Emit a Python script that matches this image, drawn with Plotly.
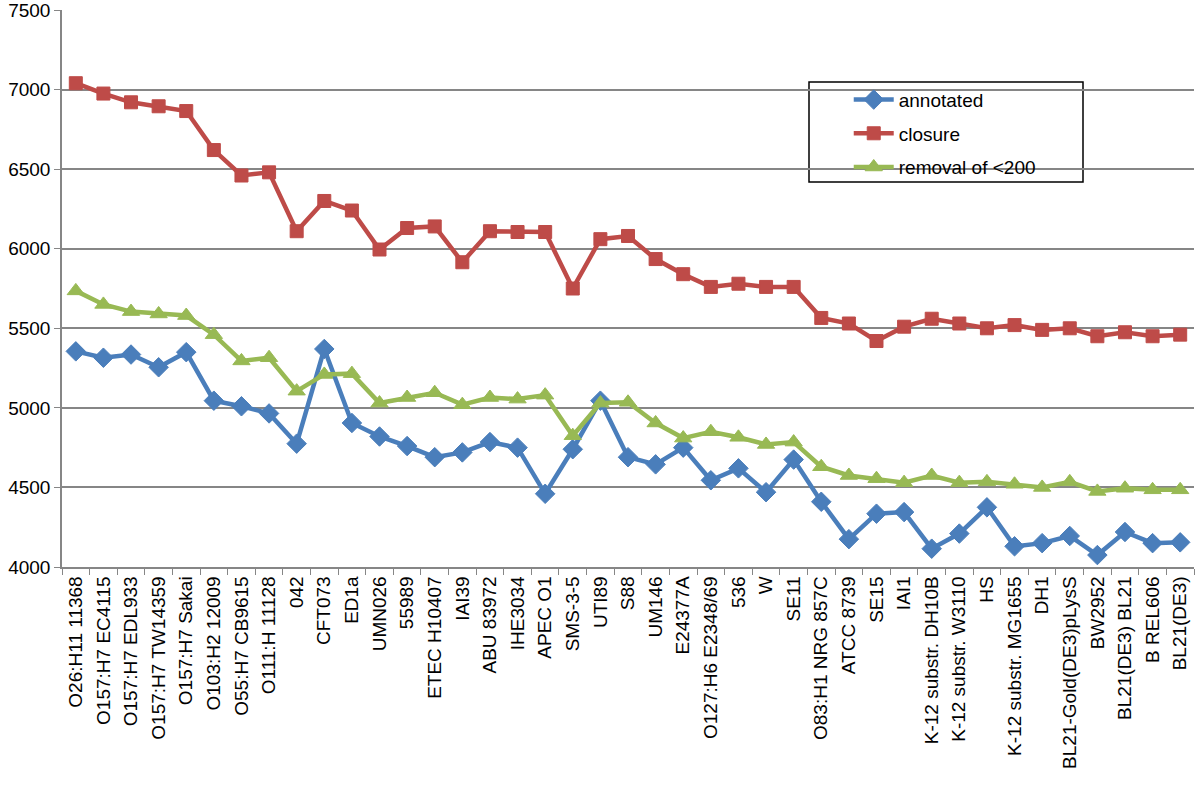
import plotly.graph_objects as go

categories = [
    "O26:H11 11368", "O157:H7 EC4115", "O157:H7 EDL933", "O157:H7 TW14359",
    "O157:H7 Sakai", "O103:H2 12009", "O55:H7 CB9615", "O111:H 11128", "042",
    "CFT073", "ED1a", "UMN026", "55989", "ETEC H10407", "IAI39", "ABU 83972",
    "IHE3034", "APEC O1", "SMS-3-5", "UTI89", "S88", "UM146", "E24377A",
    "O127:H6 E2348/69", "536", "W", "SE11", "O83:H1 NRG 857C", "ATCC 8739",
    "SE15", "IAI1", "K-12 substr. DH10B", "K-12 substr. W3110", "HS",
    "K-12 substr. MG1655", "DH1", "BL21-Gold(DE3)pLysS", "BW2952",
    "BL21(DE3) BL21", "B REL606", "BL21(DE3)",
]

annotated = [
    5355, 5315, 5335, 5255, 5350, 5045, 5010, 4965, 4775, 5370,
    4905, 4820, 4760, 4690, 4720, 4785, 4750, 4460, 4740, 5045,
    4690, 4645, 4750, 4545, 4620, 4470, 4675, 4410, 4175, 4335,
    4345, 4115, 4210, 4375, 4130, 4150, 4195, 4075, 4220, 4150, 4155,
]

closure = [
    7040, 6975, 6920, 6895, 6865, 6620, 6460, 6480, 6110, 6300,
    6240, 5995, 6130, 6140, 5915, 6110, 6105, 6105, 5750, 6060,
    6080, 5935, 5840, 5760, 5780, 5760, 5760, 5565, 5530, 5420,
    5510, 5560, 5530, 5500, 5520, 5490, 5500, 5450, 5475, 5450, 5460,
]

removal = [
    5735, 5650, 5605, 5590, 5580, 5460, 5295, 5315, 5105, 5210,
    5215, 5030, 5065, 5095, 5020, 5065, 5055, 5080, 4825, 5030,
    5035, 4905, 4810, 4850, 4815, 4770, 4785, 4630, 4575, 4555,
    4530, 4575, 4530, 4535, 4520, 4500, 4535, 4475, 4495, 4485, 4485,
]

y_ticks = [4000, 4500, 5000, 5500, 6000, 6500, 7000, 7500]

FONT = "Liberation Sans"

fig = go.Figure()
series = [
    ("annotated", annotated, "#4A7EBB", "diamond", 15),
    ("closure", closure, "#BE4B48", "square", 13),
    ("removal of <200", removal, "#98B954", "triangle-up", 15),
]
for i, (name, vals, col, sym, size) in enumerate(series):
    fig.add_trace(go.Scatter(
        x=categories, y=vals, name=name, mode="lines+markers",
        line=dict(color=col, width=4.5),
        marker=dict(symbol=sym, size=size, color=col,
                    line=dict(color=col, width=1)),
        legendgroup=f"g{i}",
    ))

fig.update_layout(
    width=1200, height=794,
    margin=dict(l=62, r=6, t=10, b=227),
    paper_bgcolor="white", plot_bgcolor="white",
    font=dict(family=FONT, size=19, color="#000000"),
    showlegend=True,
    legend=dict(
        x=0.695, y=0.873, xanchor="left", yanchor="top",
        bgcolor="rgba(0,0,0,0)", borderwidth=0,
        font=dict(family=FONT, size=19, color="#000000"),
        tracegroupgap=6, itemwidth=40,
    ),
    shapes=[dict(
        type="rect", xref="paper", yref="paper",
        x0=(809 - 62) / 1132, x1=(1083 - 62) / 1132,
        y0=(567 - 182) / 557, y1=(567 - 82) / 557,
        line=dict(color="#000000", width=1.5), fillcolor="rgba(255,255,255,1)",
        layer="below",
    )],
)

fig.update_xaxes(
    type="category", categoryorder="array", categoryarray=categories,
    range=[-0.5, len(categories) - 0.5], automargin=False,
    tickangle=-90, tickson="boundaries", ticks="outside", ticklen=6,
    tickcolor="#868686", showline=True, linecolor="#868686", linewidth=1.5,
    showgrid=False, tickfont=dict(family=FONT, size=19, color="#000000"),
    ticklabeloverflow="allow",
)
fig.update_yaxes(
    range=[4000, 7500], tickvals=y_ticks, ticktext=[str(v) for v in y_ticks],
    automargin=False, ticklabeloverflow="allow",
    ticks="outside", ticklen=6, tickcolor="#868686",
    showline=True, linecolor="#868686", linewidth=1.5,
    showgrid=True, gridcolor="#868686", gridwidth=1.5, zeroline=False,
    tickfont=dict(family=FONT, size=19, color="#000000"),
)

fig.write_html("out.html", config={"displayModeBar": False},
               post_script="document.body.style.margin='0';")
